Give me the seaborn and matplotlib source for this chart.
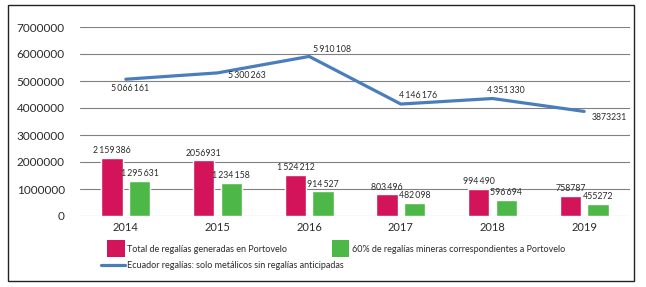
import matplotlib
matplotlib.use("Agg")
import matplotlib.pyplot as plt
import numpy as np
import pandas as pd
import seaborn as sns
from matplotlib.patches import Rectangle
from matplotlib.lines import Line2D

years = ['2014', '2015', '2016', '2017', '2018', '2019']
total_portovelo = [2159386, 2056931, 1524212, 803496, 994490, 758787]
share_60 = [1295631, 1234158, 914527, 482098, 596694, 455272]
ecuador = [5066161, 5300263, 5910108, 4146176, 4351330, 3873231]
# values printed without digit grouping in the original
plain_labels = [2056931, 758787, 455272, 3873231]

lbl_total = 'Total de regalías generadas en Portovelo'
lbl_share = '60% de regalías mineras correspondientes a Portovelo'
lbl_ecuador = 'Ecuador regalías: solo metálicos sin regalías anticipadas'

pink = '#D3145A'
green = '#4DB848'
blue = '#4A7EBB'
txt = '#2b2b2b'

def fmt(v):
    if v in plain_labels:
        return str(v)
    return f'{v:,}'.replace(',', '\u2009')

df = pd.DataFrame({
    'year': years * 2,
    'value': total_portovelo + share_60,
    'serie': [lbl_total] * 6 + [lbl_share] * 6,
})

sns.set_style('white')
plt.rcParams['font.family'] = ['Lato', 'DejaVu Sans']

fig = plt.figure(figsize=(6.46, 2.87), dpi=100)
W, H = 646, 287
ax = fig.add_axes([80 / W, 1 - 216 / H, (630 - 80) / W, (216 - 27) / H])

sns.barplot(data=df, x='year', y='value', hue='serie', palette=[pink, green],
            saturation=1, width=0.6, gap=0.22, ax=ax, legend=False, zorder=3)
sns.lineplot(x=np.arange(len(years)), y=ecuador, color=blue, linewidth=2.3,
             ax=ax, zorder=4)

# bar labels
for cont, vals in zip(ax.containers, [total_portovelo, share_60]):
    ax.bar_label(cont, labels=[fmt(v) for v in vals], padding=2, fontsize=6.3, color=txt)

# line labels (offsets in pixels)
line_offsets = [(-15, -9), (11, -3), (4, 7), (-2, 9), (-5, 8), (8, -6)]
for i, (v, (dx, dy)) in enumerate(zip(ecuador, line_offsets)):
    ax.annotate(fmt(v), (i, v), xytext=(dx, dy), textcoords='offset pixels',
                ha='left', va='center', fontsize=6.3, color=txt, zorder=5)

ax.set_xlim(-0.5, 5.5)
ax.set_ylim(0, 7000000)
ax.set_yticks(np.arange(0, 7000001, 1000000))
ax.yaxis.set_major_formatter(matplotlib.ticker.FuncFormatter(lambda v, p: f'{int(v)}'))
ax.grid(axis='y', color='#808080', linewidth=0.8, zorder=0)
ax.set_axisbelow(True)
for s in ax.spines.values():
    s.set_visible(False)
ax.tick_params(axis='y', length=0, pad=11, labelsize=8.5, labelcolor=txt)
ax.tick_params(axis='x', length=0, pad=4, labelsize=8, labelcolor=txt)
ax.set_xlabel('')
ax.set_ylabel('')

# legend drawn in figure pixels
def fx(x):
    return x / W

def fy(y):
    return 1 - y / H

fig.add_artist(Rectangle((fx(107), fy(257)), 18 / W, 17 / H, transform=fig.transFigure,
                         facecolor=pink, edgecolor='none'))
fig.text(fx(127), fy(249), lbl_total, fontsize=6.5, color=txt, va='center', ha='left')
fig.add_artist(Rectangle((fx(332), fy(257)), 17 / W, 17 / H, transform=fig.transFigure,
                         facecolor=green, edgecolor='none'))
fig.text(fx(352), fy(249), lbl_share, fontsize=6.5, color=txt, va='center', ha='left')
fig.add_artist(Line2D([fx(101), fx(125)], [fy(265), fy(265)], transform=fig.transFigure,
                      color=blue, linewidth=2.3))
fig.text(fx(127), fy(265), lbl_ecuador, fontsize=6.5, color=txt, va='center', ha='left')

# outer frame
fig.add_artist(Rectangle((fx(8), fy(281)), 626 / W, 276 / H, transform=fig.transFigure,
                         facecolor='none', edgecolor='#222222', linewidth=1.0))

fig.savefig('out.png', dpi=100)
